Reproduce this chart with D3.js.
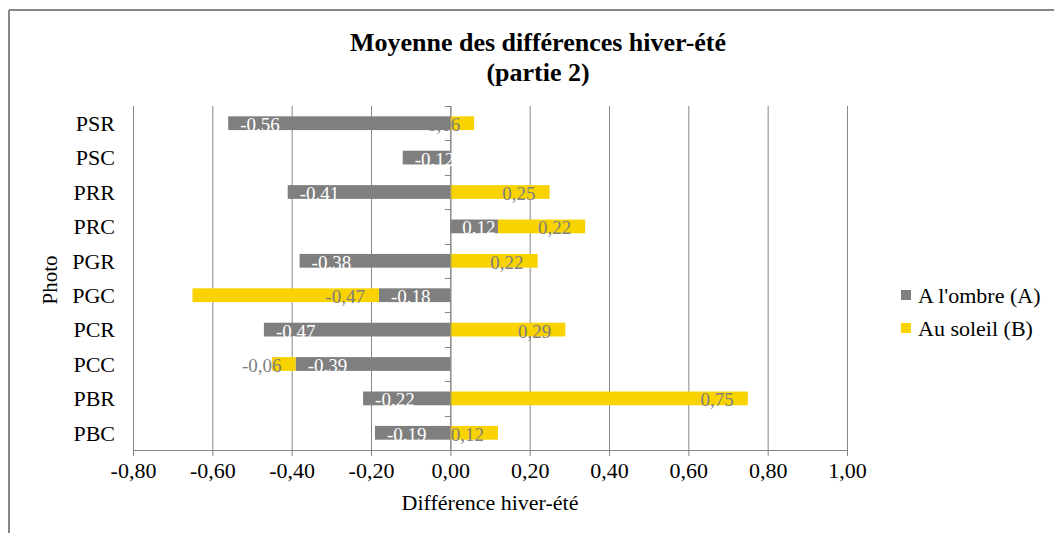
<!DOCTYPE html>
<html>
<head>
<meta charset="utf-8">
<script src="https://cdn.jsdelivr.net/npm/d3@7"></script>
<style>
  body { margin: 0; background: #fff; }
  svg { display: block; }
  text { font-family: "Liberation Serif", "Times New Roman", serif; }
</style>
</head>
<body>
<div id="chart"></div>
<script>
// data
var categories = ["PSR", "PSC", "PRR", "PRC", "PGR", "PGC", "PCR", "PCC", "PBR", "PBC"];
var ombre = [-0.56, -0.12, -0.41, 0.12, -0.38, -0.18, -0.47, -0.39, -0.22, -0.19];
var soleil = [0.06, 0, 0.25, 0.22, 0.22, -0.47, 0.29, -0.06, 0.75, 0.12];
var xTicks = [-0.8, -0.6, -0.4, -0.2, 0, 0.2, 0.4, 0.6, 0.8, 1.0];
var seriesNames = ["A l'ombre (A)", "Au soleil (B)"];

var svgWidth = 1054;
var svgHeight = 533;

var margin = { top: 106, left: 133, right: 207, bottom: 83 };
var width = svgWidth - margin.left - margin.right;
var height = svgHeight - margin.top - margin.bottom;

var grey = "#7f7f7f";
var yellow = "#f8d300";
var lineColor = "#868686";

var svg = d3.select("#chart")
    .append("svg")
    .attr("width", svgWidth)
    .attr("height", svgHeight);

// chart area border (top and left only visible)
svg.append("line").attr("x1", 9).attr("x2", svgWidth).attr("y1", 10).attr("y2", 10)
    .attr("stroke", lineColor).attr("stroke-width", 2);
svg.append("line").attr("x1", 9).attr("x2", 9).attr("y1", 10).attr("y2", svgHeight)
    .attr("stroke", lineColor).attr("stroke-width", 2);

var chartGroup = svg.append("g")
    .attr("transform", `translate(${margin.left}, ${margin.top})`);

var xScale = d3.scaleLinear().domain([-0.8, 1.0]).range([0, width]);
var yScale = d3.scaleBand().domain(categories).range([0, height]).paddingInner(0.6).paddingOuter(0.3);

// hyphen instead of unicode minus, like the original
var fmt = function(v) { return d3.format(".2f")(v).replace("\u2212", "-"); };

// vertical gridlines
chartGroup.selectAll(".grid")
    .data(xTicks)
    .enter()
    .append("line")
    .attr("x1", d => xScale(d) + 0.5)
    .attr("x2", d => xScale(d) + 0.5)
    .attr("y1", 0)
    .attr("y2", height)
    .attr("stroke", lineColor)
    .attr("stroke-width", 1);

// stacked rows (positive and negative stacks separately)
var rows = categories.map(function(c, i) {
    var a = ombre[i], b = soleil[i];
    var a0 = 0, a1 = a;
    var b0 = (b >= 0) ? (a >= 0 ? a : 0) : (a < 0 ? a : 0);
    var b1 = b0 + b;
    return { cat: c, a: a, b: b, a0: a0, a1: a1, b0: b0, b1: b1 };
});

// grey bars
chartGroup.selectAll(".barA")
    .data(rows)
    .enter()
    .append("rect")
    .attr("x", d => xScale(Math.min(d.a0, d.a1)))
    .attr("y", d => yScale(d.cat))
    .attr("width", d => Math.abs(xScale(d.a1) - xScale(d.a0)))
    .attr("height", yScale.bandwidth())
    .attr("fill", grey);

// yellow bars
chartGroup.selectAll(".barB")
    .data(rows)
    .enter()
    .append("rect")
    .attr("x", d => xScale(Math.min(d.b0, d.b1)))
    .attr("y", d => yScale(d.cat))
    .attr("width", d => Math.abs(xScale(d.b1) - xScale(d.b0)))
    .attr("height", yScale.bandwidth())
    .attr("fill", yellow);

// x axis
var xAxis = d3.axisBottom(xScale)
    .tickValues(xTicks)
    .tickSize(6)
    .tickSizeOuter(0)
    .tickFormat(d => fmt(d).replace(".", ","));

var xg = chartGroup.append("g")
    .attr("transform", `translate(0, ${height})`)
    .call(xAxis);
xg.select(".domain").attr("stroke", lineColor);
xg.selectAll(".tick line").attr("stroke", lineColor);
xg.selectAll(".tick text")
    .attr("font-family", "Liberation Serif")
    .attr("font-size", "22px")
    .attr("fill", "#000")
    .attr("y", 10)
    .attr("dy", "0.8em");

// vertical axis line at zero with category tick marks
var yAxisG = chartGroup.append("g")
    .attr("transform", `translate(${xScale(0) + 0.5}, 0)`);
yAxisG.append("line")
    .attr("y1", 0).attr("y2", height)
    .attr("stroke", lineColor);
var step = yScale.step();
yAxisG.selectAll(".ytick")
    .data(d3.range(categories.length + 1))
    .enter()
    .append("line")
    .attr("x1", -6).attr("x2", 0)
    .attr("y1", d => Math.round(yScale(categories[0]) - yScale.paddingInner() * step / 2 + d * step) + 0.5)
    .attr("y2", d => Math.round(yScale(categories[0]) - yScale.paddingInner() * step / 2 + d * step) + 0.5)
    .attr("stroke", lineColor);

// category labels at the low side
chartGroup.selectAll(".catLabel")
    .data(categories)
    .enter()
    .append("text")
    .attr("x", -18)
    .attr("y", d => yScale(d) + yScale.bandwidth() / 2)
    .attr("dy", "0.35em")
    .attr("text-anchor", "end")
    .attr("font-size", "22px")
    .attr("fill", "#000")
    .text(d => d);

// data labels: grey series (white, dot decimal) near left end
chartGroup.selectAll(".labA")
    .data(rows)
    .enter()
    .append("text")
    .attr("x", d => xScale(Math.min(d.a0, d.a1)) + 12)
    .attr("y", d => yScale(d.cat) + yScale.bandwidth() / 2)
    .attr("dy", "0.42em")
    .attr("font-size", "19px")
    .attr("fill", "#fff")
    .text(d => fmt(d.a));

// data labels: yellow series (grey, comma decimal) near right end
chartGroup.selectAll(".labB")
    .data(rows.filter(d => d.b !== 0))
    .enter()
    .append("text")
    .attr("x", d => xScale(Math.max(d.b0, d.b1)) - 14)
    .attr("y", d => yScale(d.cat) + yScale.bandwidth() / 2)
    .attr("dy", "0.42em")
    .attr("text-anchor", "end")
    .attr("font-size", "19px")
    .attr("fill", grey)
    .text(d => fmt(d.b).replace(".", ","));

// title
svg.append("text")
    .attr("x", 538).attr("y", 51)
    .attr("text-anchor", "middle")
    .attr("font-size", "26px").attr("font-weight", "bold")
    .text("Moyenne des différences hiver-été");
svg.append("text")
    .attr("x", 538).attr("y", 81)
    .attr("text-anchor", "middle")
    .attr("font-size", "26px").attr("font-weight", "bold")
    .text("(partie 2)");

// axis titles
svg.append("text")
    .attr("x", 490).attr("y", 510)
    .attr("text-anchor", "middle")
    .attr("font-size", "22px")
    .text("Différence hiver-été");

svg.append("text")
    .attr("transform", "translate(57, 280) rotate(-90)")
    .attr("text-anchor", "middle")
    .attr("font-size", "21px")
    .text("Photo");

// legend
var legend = svg.append("g").attr("transform", "translate(901, 295)");
[grey, yellow].forEach(function(c, i) {
    legend.append("rect")
        .attr("x", 0).attr("y", i * 33 - 5)
        .attr("width", 10).attr("height", 10)
        .attr("fill", c);
    legend.append("text")
        .attr("x", 17).attr("y", i * 33)
        .attr("dy", "0.35em")
        .attr("font-size", "22px")
        .text(seriesNames[i]);
});
</script>
</body>
</html>
